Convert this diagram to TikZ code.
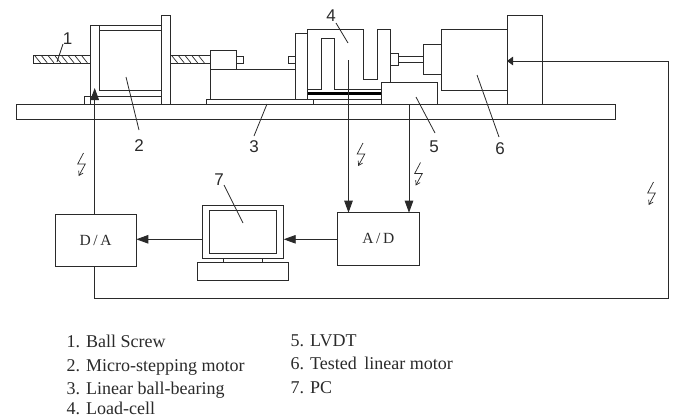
\documentclass[tikz,border=0pt]{standalone}
\usepackage{fontspec}
\setmainfont{Liberation Serif}
\newfontfamily\digitfont{Liberation Sans}
\usetikzlibrary{arrows.meta}
\definecolor{ink}{HTML}{2A2A2A}
\tikzset{
  ln/.style={draw=ink,line width=0.9pt},
  box/.style={ln,rectangle,anchor=north west,inner sep=0pt,outer sep=0pt},
  sigarrow/.style={ln,-{Triangle[length=12pt,width=8.5pt]}},
  plain/.style={ln},
  hatch/.style={draw=ink,line width=0.7pt},
  lead/.style={draw=ink,line width=0.8pt},
  num/.style={font=\digitfont\fontsize{17}{17}\selectfont,text=ink,inner sep=0pt},
  legend/.style={font=\fontsize{18}{19}\selectfont,text=ink,inner sep=0pt,anchor=base west},
  conv/.style={font=\fontsize{15.5}{15.5}\selectfont,text=ink,inner sep=0pt},
  bolt/.pic={\draw[draw=ink,line width=0.7pt,-{Straight Barb[length=4pt,width=5pt]}]
     (2.5,-12)--(-3.3,-1)--(4.3,-1)--(-2.3,11);}
}
\begin{document}
\begin{tikzpicture}[x=1pt,y=-1pt]
\useasboundingbox (0,0) rectangle (675,418);
% base plate
\draw[plain] (16,104.5) rectangle (615,119);
% ball screw
\draw[plain] (33,55.5) rectangle (90,63);
\foreach \x in {35,41.7,...,85}{\draw[hatch] (\x,56)--(\x+5.5,62.8);}
\draw[plain] (170,55.5) -- (210,55.5) (170,63) -- (210,63);
\foreach \x in {172,178.7,...,205}{\draw[hatch] (\x,56)--(\x+5.5,62.8);}
% micro-stepping motor
\draw[plain] (90,104.5)--(90,25)--(161,25);
\draw[plain] (99.5,25)--(99.5,90.5)--(161,90.5);
\draw[plain] (99.5,30)--(161,30);
\draw[plain] (84,104.5)--(84,96)--(161,96);
\draw[plain] (161,104.5)--(161,15.5)--(170,15.5)--(170,104.5);
% carriage
\draw[plain] (210,50) rectangle (236,69);
\draw[plain] (236,56) rectangle (243.5,63);
\draw[plain] (210,69) rectangle (295.5,99.5);
\draw[plain] (206,104.5)--(206,99.5)--(313,99.5)--(313,104.5);
\draw[plain,fill=white] (295.5,33.5) rectangle (307.5,99.5);
\draw[plain] (288,56) rectangle (295.5,63);
% load cell
\draw[plain] (307.5,89)--(307.5,29)--(363,29)--(363,79)--(377,79)--(377,29)--(390,29)--(390,82.5);
\draw[plain] (307.5,89)--(321,89)--(321,38.5)--(334,38.5)--(334,89)--(381,89);
\draw[draw=black,line width=3.2pt] (308,93.3)--(381,93.3);
\draw[plain] (307.5,99.5)--(381,99.5);
% LVDT
\draw[plain] (381,104.5)--(381,82.5)--(437,82.5)--(437,104.5);
% linear motor
\draw[plain] (390,53) rectangle (398.5,65.5);
\draw[plain] (398.5,56.5)--(423.5,56.5) (398.5,62)--(423.5,62);
\draw[plain] (423.5,44.5) rectangle (441.5,74);
\draw[plain] (441.5,29) rectangle (507,90);
\node[box,minimum width=35pt,minimum height=88.5pt] (plate) at (507,15.5) {};
% electronics
\node[box,conv,minimum width=81.3pt,minimum height=52.3pt] (da) at (55,214) {D\,/\,A};
\node[box,conv,minimum width=81.3pt,minimum height=52.3pt] (ad) at (337.7,212.7) {A\,/\,D};
\node[box,minimum width=81.4pt,minimum height=52.3pt] (mon) at (202.3,205.7) {};
\node[box,minimum width=67pt,minimum height=43pt] (scr) at (209.7,210.3) {};
\node[box,minimum width=91.4pt,minimum height=17.3pt] (kbd) at (197.3,262.7) {};
\draw[plain] (223,258)--(223,262.7) (262.7,258)--(262.7,262.7);
\coordinate (cellout) at (348.5,60);
\coordinate (lvdtout) at (409,104.5);
\coordinate (daup) at (94.7,88);
\coordinate (cornerA) at (94.7,298);
\coordinate (cornerB) at (668,298);
\coordinate (cornerC) at (668,61);
\draw[sigarrow] (cellout)--(cellout|-ad.north);
\draw[sigarrow] (lvdtout)--(lvdtout|-ad.north);
\draw[sigarrow] (ad.west|-0,239.3)--(mon.east|-0,239.3);
\draw[sigarrow] (mon.west|-0,239.3)--(da.east|-0,239.3);
\draw[sigarrow] (daup|-da.north)--(daup);
\draw[ln] (cornerA|-da.south)--(cornerA)--(cornerB)--(cornerC);
\draw[ln,-{Triangle[length=6pt,width=8.5pt]}] (cornerC)--(cornerC-|plate.west);
% bolts
\pic at (81,165) {bolt};
\pic at (360.5,155) {bolt};
\pic at (418,174.5) {bolt};
\pic at (651,194) {bolt};
% numbers and leaders
\node[num] (n1) at (67.5,39) {1};
\node[num] (n2) at (139,146) {2};
\node[num] (n3) at (254,147) {3};
\node[num] (n4) at (331,16) {4};
\node[num] (n5) at (434,147) {5};
\node[num] (n6) at (500,149) {6};
\node[num] (n7) at (219,180) {7};
\coordinate (p1) at (57,62); \coordinate (q1) at (63,44);
\coordinate (p2) at (126,77); \coordinate (q2) at (139,130);
\coordinate (p3) at (267,104); \coordinate (q3) at (254,136);
\coordinate (p4) at (348,43); \coordinate (q4) at (336,23);
\coordinate (p5) at (416,97); \coordinate (q5) at (435,133);
\coordinate (p6) at (477,75); \coordinate (q6) at (499,137);
\coordinate (p7) at (243,223); \coordinate (q7) at (224,185);
\foreach \i in {1,...,7}{\draw[lead] (q\i)--(p\i);}
% legend
\node[legend] (a1) at (66.5,347) {1. Ball Screw};
\node[legend] (a2) at (66.5,371) {2. Micro-stepping motor};
\node[legend] (a3) at (66.5,394) {3. Linear ball-bearing};
\node[legend] (a4) at (66.5,414.5) {4. Load-cell};
\node[legend] (b1) at (290.5,346) {5. LVDT};
\node[legend] (b2) at (290.5,369) {6. Tested \,linear motor};
\node[legend] (b3) at (290.5,393) {7. PC};
\end{tikzpicture}
\end{document}
